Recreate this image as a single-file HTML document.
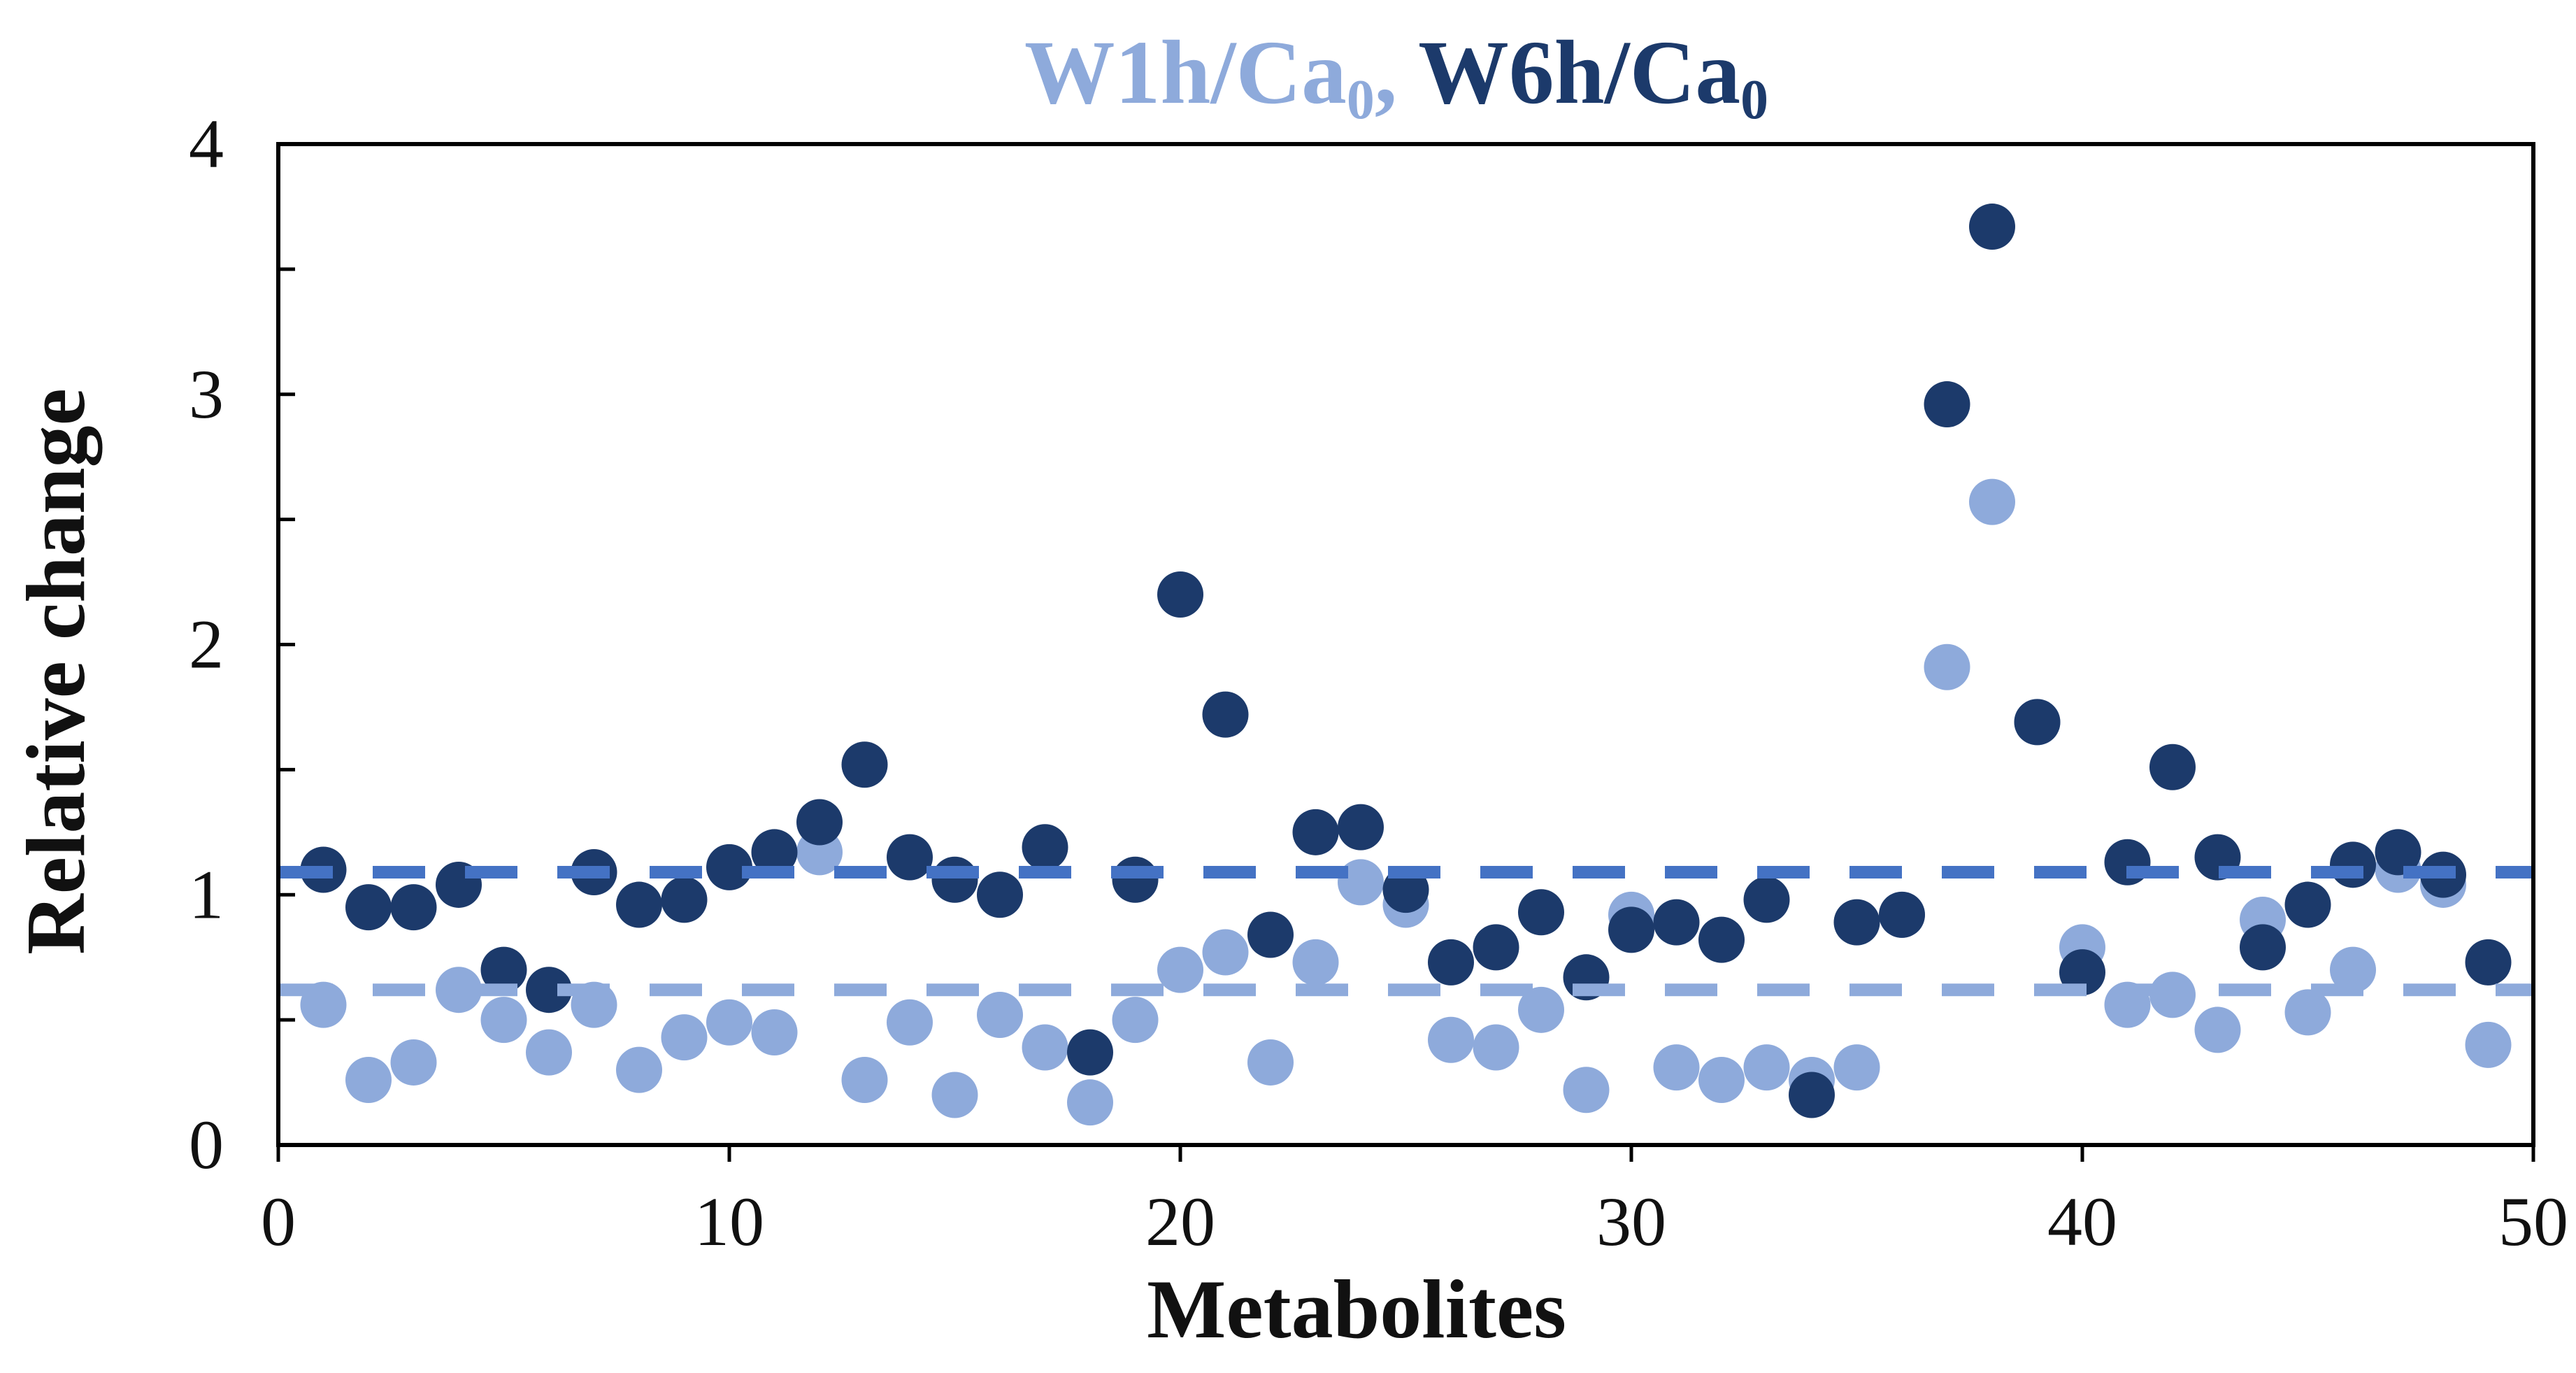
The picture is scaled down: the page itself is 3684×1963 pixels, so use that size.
<!DOCTYPE html>
<html><head><meta charset="utf-8"><style>
html,body{margin:0;padding:0;background:#fff;}
svg{display:block;font-family:"Liberation Serif",serif;}
</style></head><body>
<svg id="chart" width="3684" height="1963" viewBox="0 0 3684 1963" xmlns="http://www.w3.org/2000/svg">
<rect width="3684" height="1963" fill="#fff"/>
<text x="1465" y="147" font-size="130" font-weight="bold" textLength="1064" lengthAdjust="spacingAndGlyphs"><tspan fill="#8eaadb">W1h/Ca<tspan font-size="80" dy="22">0</tspan><tspan dy="-22">, </tspan></tspan><tspan fill="#1c3a6b">W6h/Ca<tspan font-size="80" dy="22">0</tspan></tspan></text>
<g id="marks"></g>
<g id="axes"></g>
<text transform="translate(120,960) rotate(-90)" text-anchor="middle" font-size="120" font-weight="bold" fill="#111">Relative change</text>
<text x="1940" y="1912" text-anchor="middle" font-size="120" font-weight="bold" fill="#111">Metabolites</text>
</svg>
<script>
const metaboliteIds = [1,2,3,4,5,6,7,8,9,10,11,12,13,14,15,16,17,18,19,20,21,22,23,24,25,26,27,28,29,30,31,32,33,34,35,36,37,38,39,40,41,42,43,44,45,46,47,48,49];
const w1hValues = [0.56,0.26,0.33,0.62,0.50,0.37,0.56,0.30,0.43,0.49,0.45,1.17,0.26,0.49,0.20,0.52,0.39,0.17,0.50,0.70,0.77,0.33,0.73,1.05,0.96,0.42,0.39,0.54,0.22,0.92,0.31,0.26,0.31,0.26,0.31,0.92,1.91,2.57,1.69,0.79,0.56,0.60,0.46,0.90,0.53,0.70,1.10,1.04,0.40];
const w6hValues = [1.10,0.95,0.95,1.04,0.70,0.62,1.09,0.96,0.98,1.11,1.17,1.29,1.52,1.15,1.06,1.00,1.19,0.37,1.06,2.20,1.72,0.84,1.25,1.27,1.02,0.73,0.79,0.93,0.67,0.86,0.89,0.82,0.98,0.20,0.89,0.92,2.96,3.67,1.69,0.69,1.13,1.51,1.15,0.79,0.96,1.12,1.17,1.08,0.73];
const w1hMean = 0.62;
const w6hMean = 1.09;
const xTicks = [0,10,20,30,40,50];
const yTicks = [0,1,2,3,4];
const yMinorTicks = [0.5,1.5,2.5,3.5];

const X0=398,X1=3623,Y0=1637,Y1=206;
const xs = v => X0 + (v/50)*(X1-X0);
const ys = v => Y0 - (v/4)*(Y0-Y1);
const NS='http://www.w3.org/2000/svg';
const marks=document.getElementById('marks');
const axes=document.getElementById('axes');
function mk(tag,parent){const e=document.createElementNS(NS,tag);parent.appendChild(e);return e;}

function dots(vals,color,nm){
  vals.forEach((v,i)=>{
    const c=mk('circle',marks);
    c.setAttribute('cx',xs(metaboliteIds[i]));c.setAttribute('cy',ys(v));c.setAttribute('r',33);c.setAttribute('fill',color);
    
    
  });
}
dots(w1hValues,'#8eaadb','w1h');
dots(w6hValues,'#1c3a6b','w6h');

function meanLine(v,color,nm){
  const l=mk('line',marks);
  l.setAttribute('x1',X0+3);l.setAttribute('x2',X1);l.setAttribute('y1',ys(v));l.setAttribute('y2',ys(v));
  l.setAttribute('stroke',color);l.setAttribute('stroke-width',18);l.setAttribute('stroke-dasharray','75 57');
  
  
}
meanLine(w1hMean,'#8eaadb','w1h-mean-line');
meanLine(w6hMean,'#4472c4','w6h-mean-line');

const frame=mk('rect',axes);
frame.setAttribute('x',X0);frame.setAttribute('y',Y1);frame.setAttribute('width',X1-X0);frame.setAttribute('height',Y0-Y1);
frame.setAttribute('fill','none');frame.setAttribute('stroke','#000');frame.setAttribute('stroke-width',6);



yTicks.forEach(t=>{
  const l=mk('line',axes);
  l.setAttribute('x1',X0);l.setAttribute('x2',X0+24);l.setAttribute('y1',ys(t));l.setAttribute('y2',ys(t));
  l.setAttribute('stroke','#000');l.setAttribute('stroke-width',5);
  
  
  const tx=mk('text',axes);
  tx.setAttribute('x',320);tx.setAttribute('y',ys(t)+33);tx.setAttribute('text-anchor','end');tx.setAttribute('font-size',100);tx.setAttribute('fill','#111');
  tx.textContent=t;
  
  
});
yMinorTicks.forEach(t=>{
  const l=mk('line',axes);
  l.setAttribute('x1',X0);l.setAttribute('x2',X0+24);l.setAttribute('y1',ys(t));l.setAttribute('y2',ys(t));
  l.setAttribute('stroke','#000');l.setAttribute('stroke-width',5);
  
  
});
xTicks.forEach(t=>{
  const l=mk('line',axes);
  l.setAttribute('x1',xs(t));l.setAttribute('x2',xs(t));l.setAttribute('y1',Y0);l.setAttribute('y2',Y0+24);
  l.setAttribute('stroke','#000');l.setAttribute('stroke-width',5);
  
  
  const tx=mk('text',axes);
  tx.setAttribute('x',xs(t));tx.setAttribute('y',1780);tx.setAttribute('text-anchor','middle');tx.setAttribute('font-size',100);tx.setAttribute('fill','#111');
  tx.textContent=t;
  
  
});
</script>
</body></html>
